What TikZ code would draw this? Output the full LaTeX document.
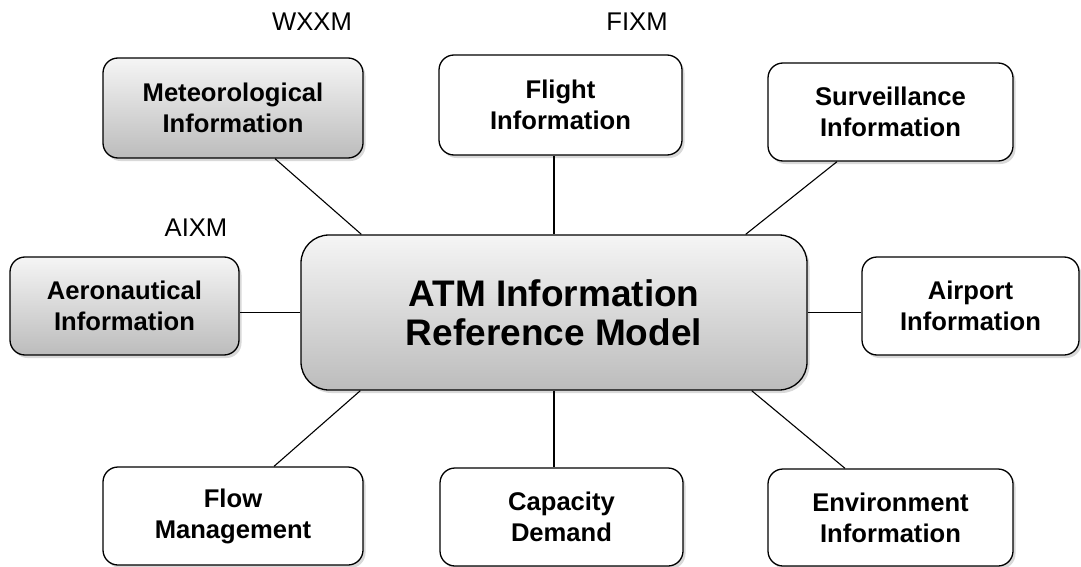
\documentclass[tikz,border=0pt]{standalone}
\usepackage{fontspec}
\setmainfont{Liberation Sans}
\usepackage{tikz}
\usetikzlibrary{positioning,calc,shadows}
\definecolor{boxtop}{RGB}{245,245,245}
\definecolor{boxbot}{RGB}{188,188,188}
\tikzset{
  box/.style  = {draw, rounded corners=15pt, align=center, line width=1.3pt, fill=white, inner sep=0pt,
                 font=\fontsize{25.6}{31}\selectfont\bfseries,
                 drop shadow={shadow xshift=2.5pt, shadow yshift=-3pt, opacity=0.3}},
  gbox/.style = {box, top color=boxtop, bottom color=boxbot},
  core/.style = {gbox, rounded corners=28pt, font=\fontsize{37}{39}\selectfont\bfseries},
  link/.style = {line width=1.1pt},
  tag/.style  = {font=\fontsize{25.6}{31}\selectfont, inner sep=0pt},
}
\begin{document}
\begin{tikzpicture}[x=1pt,y=-1pt]
  \useasboundingbox (0,0) rectangle (1081,567);
  \node[core, minimum width=506pt, minimum height=155pt] (atm) at (554,312.5) {ATM Information\\Reference Model};
  \node[gbox, minimum width=260pt, minimum height=100pt] (met)  at (233,108)   {Meteorological\\Information};
  \node[box,  minimum width=243pt, minimum height=100pt] (fli)  at (560.5,105) {Flight\\Information};
  \node[box,  minimum width=245pt, minimum height=98pt]  (surv) at (890.5,112) {Surveillance\\Information};
  \node[gbox, minimum width=229pt, minimum height=98pt]  (aero) at (124.5,306) {Aeronautical\\Information};
  \node[box,  minimum width=217pt, minimum height=98pt]  (apt)  at (970.5,306) {Airport\\Information};
  \node[box,  minimum width=260pt, minimum height=98pt]  (flow) at (233,516)   {Flow\\Management};
  \node[box,  minimum width=243pt, minimum height=98pt]  (cap)  at (561.5,517) {Capacity\\Demand};
  \node[box,  minimum width=245pt, minimum height=97pt]  (env)  at (890.5,517.5) {Environment\\Information};
  \node[tag] (wxxm) at (312,22)  {WXXM};
  \node[tag] (fixm) at (637,22)  {FIXM};
  \node[tag] (aixm) at (196,228) {AIXM};
  \draw[link] ($(atm.north west)+(61,0)$) -- ($(met.south)+(42,0)$);
  \draw[link] (atm.north) -- (atm.north |- fli.south);
  \draw[link] ($(atm.north east)+(-62,0)$) -- ($(surv.south)+(-53.5,0)$);
  \draw[link] (atm.west) -- (atm.west -| aero.east);
  \draw[link] (atm.east) -- (atm.east -| apt.west);
  \draw[link] ($(atm.south west)+(60,0)$) -- ($(flow.north)+(41,0)$);
  \draw[link] (atm.south) -- (atm.south |- cap.north);
  \draw[link] ($(atm.south east)+(-56,0)$) -- ($(env.north)+(-45.5,0)$);
\end{tikzpicture}
\end{document}
